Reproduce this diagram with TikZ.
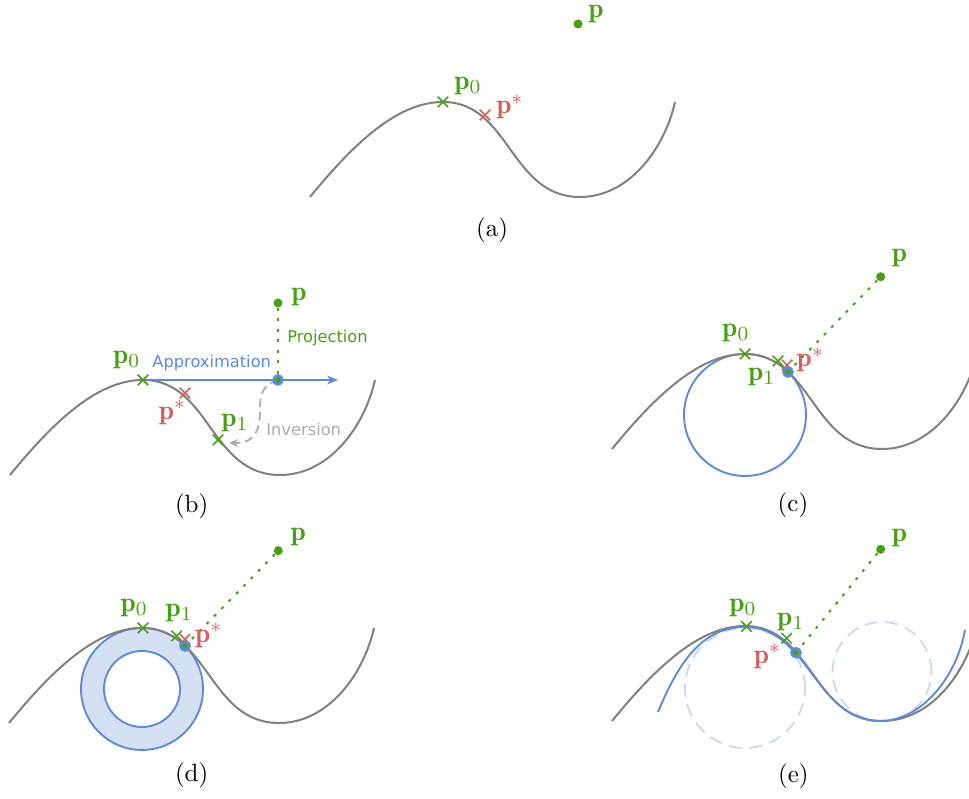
\documentclass[tikz,border=0pt]{standalone}
\usepackage{fontspec}
\usepackage{amsmath}
\usetikzlibrary{arrows.meta, positioning, shapes.misc}
\newfontfamily\annfont{DejaVu Sans}
\definecolor{ptgreen}{HTML}{46A013}
\definecolor{ptred}{HTML}{D35F5F}
\definecolor{apxblue}{HTML}{5B8BD6}
\definecolor{curvegray}{HTML}{808080}
\definecolor{ringfill}{HTML}{D5E0F4}
\definecolor{ghostblue}{HTML}{C8D7F0}
\definecolor{invgray}{HTML}{ABABAB}

\begin{document}
\begin{tikzpicture}[
    x=0.4pt, y=0.4pt,
    gcurve/.style={curvegray, line width=0.8pt},
    wave/.style={insert path={(0,0) .. controls (45,55) and (88,95) .. (133,95) .. controls (200,95) and (200,0) .. (270,0) .. controls (320,0) and (355,50) .. (365,95)}},
    xmark/.style={cross out, draw, line width=0.6pt, minimum size=3.6pt, inner sep=0pt},
    ptdot/.style={circle, fill=ptgreen, minimum size=3.6pt, inner sep=0pt},
    projpt/.style={circle, fill=ptgreen, draw=apxblue, line width=1.2pt, minimum size=3.4pt, inner sep=0pt},
    lbl/.style={inner sep=0pt, font=\fontsize{11}{13}\selectfont},
    ann/.style={inner sep=0pt, font=\annfont\fontsize{6.5}{8}\selectfont},
    projline/.style={ptgreen, line width=0.8pt, dash pattern=on 1.2pt off 3pt},
    apxarrow/.style={-{Stealth[length=4.4pt, width=3.6pt]}, apxblue, line width=0.8pt},
    invarrow/.style={-{Stealth[length=3.6pt, width=3.2pt]}, invgray, line width=0.7pt, dash pattern=on 3.4pt off 2pt},
    osc/.style={apxblue, line width=0.75pt},
    ghost/.style={ghostblue, line width=0.7pt, dash pattern=on 5.2pt off 3pt},
    tag/.style={inner sep=0pt}
]
\useasboundingbox (0,0) rectangle (969,799);

% (a) starting point
\begin{scope}[shift={(310,602)}]
    \draw[gcurve, wave];
    \node[xmark, ptgreen] (a-p0) at (133,95) {};
    \node[xmark, ptred] (a-ps) at (175,82) {};
    \node[ptdot] (a-p) at (268,173) {};
    \node[lbl, ptgreen] (a-p0-l) at (158,111.5) {$\mathbf{p}_0$};
    \node[lbl, ptred] (a-ps-l) at (200,90) {$\mathbf{p}^*$};
    \node[lbl, ptgreen] (a-p-l) at (286,183) {$\mathbf{p}$};
    \node[tag] (a-tag) at (182,-33) {(a)};
\end{scope}

% (b) tangent step
\begin{scope}[shift={(10,324)}]
    \draw[gcurve, wave];
    \node[xmark, ptgreen] (b-p0) at (133,95) {};
    \node[xmark, ptred] (b-ps) at (175,82) {};
    \node[xmark, ptgreen] (b-p1) at (208,35) {};
    \node[ptdot] (b-p) at (268,172) {};
    \coordinate (b-end) at (328,95);
    \coordinate (b-inv) at (219,32);
    \coordinate (b-foot) at (268,95);
    \draw[apxarrow] (b-p0) -- (b-end);
    \draw[projline] (b-p) -- (b-foot);
    \draw[invarrow] (b-foot) .. controls (252,90) and (250,80) .. (250,65) .. controls (250,38) and (240,32) .. (b-inv);
    \node[projpt] (b-q) at (b-foot) {};
    \node[lbl, ptgreen] (b-p0-l) at (116.7,115) {$\mathbf{p}_0$};
    \node[lbl, ptred] (b-ps-l) at (162.5,62.5) {$\mathbf{p}^*$};
    \node[lbl, ptgreen] (b-p1-l) at (225,52) {$\mathbf{p}_1$};
    \node[lbl, ptgreen] (b-p-l) at (289,178) {$\mathbf{p}$};
    \node[ann, apxblue] (b-apx) at (201.7,111.7) {Approximation};
    \node[ann, ptgreen] (b-prj) at (317.5,136.5) {Projection};
    \node[ann, invgray] (b-invl) at (293.7,45.3) {Inversion};
    \node[tag] (b-tag) at (181.7,-31.7) {(b)};
\end{scope}

% (c) osculating circle
\begin{scope}[shift={(612,350)}]
    \draw[osc] (133,34) circle[radius=61];
    \draw[gcurve, wave];
    \node[xmark, ptgreen] (c-p0) at (133,95) {};
    \node[xmark, ptgreen] (c-p1) at (166,88) {};
    \node[xmark, ptred] (c-ps) at (175,84) {};
    \node[ptdot] (c-p) at (268.7,172.3) {};
    \coordinate (c-foot) at (176,77);
    \draw[projline] (c-p) -- (c-foot);
    \node[projpt] (c-q) at (c-foot) {};
    \node[lbl, ptgreen] (c-p0-l) at (123.8,115.7) {$\mathbf{p}_0$};
    \node[lbl, ptgreen] (c-p1-l) at (149.7,72.3) {$\mathbf{p}_1$};
    \node[lbl, ptred] (c-ps-l) at (198.3,89) {$\mathbf{p}^*$};
    \node[lbl, ptgreen] (c-p-l) at (287.5,190.7) {$\mathbf{p}$};
    \node[tag] (c-tag) at (181,-56) {(c)};
\end{scope}

% (d) ring of circles
\begin{scope}[shift={(9,76)}]
    \fill[ringfill, even odd rule] (133,34) circle[radius=61] (133,34) circle[radius=38];
    \draw[osc] (133,34) circle[radius=61] (133,34) circle[radius=38];
    \draw[gcurve, wave];
    \node[xmark, ptgreen] (d-p0) at (134,95) {};
    \node[xmark, ptgreen] (d-p1) at (167.7,87) {};
    \node[xmark, ptred] (d-ps) at (176,83.7) {};
    \node[ptdot] (d-p) at (269.3,172.3) {};
    \coordinate (d-foot) at (176,77);
    \draw[projline] (d-p) -- (d-foot);
    \node[projpt] (d-q) at (d-foot) {};
    \node[lbl, ptgreen] (d-p0-l) at (125.2,115.5) {$\mathbf{p}_0$};
    \node[lbl, ptgreen] (d-p1-l) at (170.2,109.7) {$\mathbf{p}_1$};
    \node[lbl, ptred] (d-ps-l) at (199.8,87.2) {$\mathbf{p}^*$};
    \node[lbl, ptgreen] (d-p-l) at (289.3,186.3) {$\mathbf{p}$};
    \node[tag] (d-tag) at (182.7,-52) {(d)};
\end{scope}

% (e) fitted curve
\begin{scope}[shift={(612,78)}]
    \draw[ghost] (133,33) circle[radius=60];
    \draw[ghost] (270,49.5) circle[radius=49.5];
    \draw[gcurve, wave];
    \draw[osc] (46,9) .. controls (68,62) and (92,94) .. (133,94) .. controls (197,94) and (203,0) .. (268,0) .. controls (310,0) and (345,45) .. (353,91);
    \node[xmark, ptgreen] (e-p0) at (134.5,94.5) {};
    \node[xmark, ptgreen] (e-p1) at (174.7,82.7) {};
    \node[ptdot] (e-p) at (268.7,171.7) {};
    \coordinate (e-foot) at (184,68.3);
    \draw[projline] (e-p) -- (e-foot);
    \node[projpt] (e-q) at (e-foot) {};
    \node[lbl, ptgreen] (e-p0-l) at (131,113.5) {$\mathbf{p}_0$};
    \node[lbl, ptgreen] (e-p1-l) at (178.8,99.3) {$\mathbf{p}_1$};
    \node[lbl, ptred] (e-ps-l) at (155.5,64.3) {$\mathbf{p}^*$};
    \node[lbl, ptgreen] (e-p-l) at (287.5,183.5) {$\mathbf{p}$};
    \node[tag] (e-tag) at (181.3,-55.7) {(e)};
\end{scope}

\end{tikzpicture}
\end{document}
